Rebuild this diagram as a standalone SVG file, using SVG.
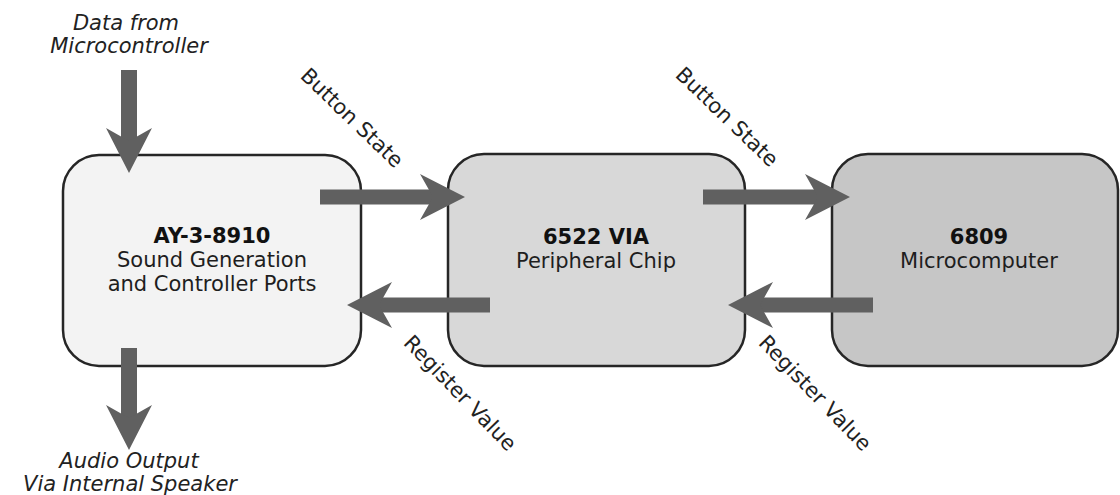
<svg xmlns="http://www.w3.org/2000/svg" width="1120" height="495" viewBox="0 0 1120 495">
<style>
.box{stroke:#262626;stroke-width:2.5}
.t{font-family:"DejaVu Sans","Liberation Sans",sans-serif;font-size:21px;fill:#1e1e1e;text-anchor:middle}
.b{font-weight:bold;fill:#111}
.i{font-style:italic;font-size:20px}
.lbl{font-family:"DejaVu Sans","Liberation Sans",sans-serif;font-size:21px;fill:#222;text-anchor:middle}
.arr{stroke:#606060;stroke-width:15;fill:none;marker-end:url(#head)}
.arrv{stroke:#606060;stroke-width:16;fill:none;marker-end:url(#head)}
</style>
<defs>
<marker id="head" markerUnits="userSpaceOnUse" viewBox="-15 -25 50 50" markerWidth="50" markerHeight="50" refX="0" refY="0" orient="auto">
<path d="M32 0 L-13 -23 L0 0 L-13 23 Z" fill="#606060"/>
</marker>
</defs>
<rect width="1120" height="495" fill="#ffffff"/>
<g id="ay38910">
<rect class="box" x="63" y="155" width="298" height="211" rx="36" ry="36" fill="#f3f3f3"/>
<text class="t b" x="212" y="243">AY-3-8910</text>
<text class="t" x="212" y="267">Sound Generation</text>
<text class="t" x="212" y="291">and Controller Ports</text>
</g>
<g id="via6522">
<rect class="box" x="448" y="154" width="297" height="212" rx="36" ry="36" fill="#d8d8d8"/>
<text class="t b" x="596" y="244">6522 VIA</text>
<text class="t" x="596" y="268">Peripheral Chip</text>
</g>
<g id="mc6809">
<rect class="box" x="832" y="154" width="286" height="212" rx="36" ry="36" fill="#c6c6c6"/>
<text class="t b" x="979" y="244">6809</text>
<text class="t" x="979" y="268">Microcomputer</text>
</g>
<g id="connectors">
<line class="arrv" x1="129" y1="70" x2="129" y2="141"/>
<line class="arrv" x1="129" y1="348" x2="129" y2="418"/>
<line class="arr" x1="320" y1="197" x2="433" y2="197"/>
<line class="arr" x1="703" y1="197" x2="818" y2="197"/>
<line class="arr" x1="490" y1="305" x2="379" y2="305"/>
<line class="arr" x1="873" y1="305" x2="760" y2="305"/>
</g>
<g id="labels">
<text class="lbl i" x="126" y="30">Data from</text>
<text class="lbl i" x="129" y="53">Microcontroller</text>
<text class="lbl i" x="129" y="468">Audio Output</text>
<text class="lbl i" x="130" y="491">Via Internal Speaker</text>
<text class="lbl" transform="translate(347,123) rotate(44)">Button State</text>
<text class="lbl" transform="translate(722,122) rotate(44)">Button State</text>
<text class="lbl" transform="translate(455,398) rotate(46)">Register Value</text>
<text class="lbl" transform="translate(810,398) rotate(46)">Register Value</text>
</g>
</svg>
